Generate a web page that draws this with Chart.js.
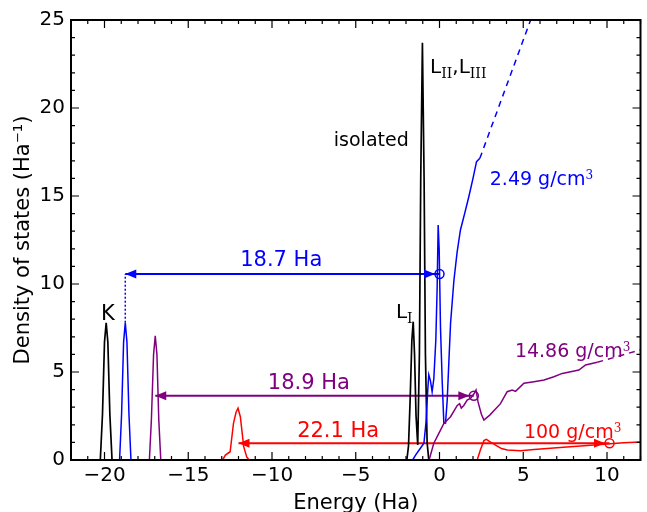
<!doctype html>
<html lang="en">
<head>
<meta charset="utf-8">
<title>Density of states</title>
<script src="https://cdn.jsdelivr.net/npm/chart.js"></script>
<style>
  html, body { margin: 0; padding: 0; background: #fff; }
  #dos { display: block; }
</style>
</head>
<body>
<canvas id="dos" width="647" height="512"></canvas>
<script>
// ------------- values -------------
const xTicks = [-20, -15, -10, -5, 0, 5, 10];
const yTicks = [0, 5, 10, 15, 20, 25];

// isolated atom (black)
const isoE = [-22, -20.25, -20.12, -20.0, -19.9, -19.8, -19.68, -19.55,
  -1.95, -1.85, -1.75, -1.65, -1.57, -1.49, -1.4, -1.3,
  -1.2, -1.12, -1.02, -0.92, -0.84, -0.74, -0.64, 12];
const isoD = [0, 0, 2.6, 6.7, 7.8, 6.7, 2.6, 0,
  0, 0.8, 3.5, 6.8, 7.86, 6.0, 2.5, 0.85,
  6.0, 16.0, 23.7, 16.0, 6.0, 1.0, 0, 0];

// 2.49 g/cm3 (blue)
const lowE = [-22, -19.1, -18.98, -18.86, -18.76, -18.66, -18.54, -18.42,
  -1.6, -1.43, -1.13, -0.93, -0.8, -0.7, -0.64, -0.54, -0.44, -0.34, -0.22, -0.14,
  -0.08, -0.02, 0.06, 0.16, 0.26, 0.36, 0.46, 0.56, 0.66, 0.86, 1.05, 1.25, 1.5,
  1.75, 2.0, 2.21, 2.41];
const lowD = [0, 0, 2.6, 6.7, 7.8, 6.7, 2.6, 0,
  0, 0.28, 0.68, 0.95, 2.2, 4.0, 4.85, 4.5, 3.88, 4.6, 6.8, 9.8,
  13.35, 12.0, 7.5, 4.5, 2.08, 2.1, 3.4, 5.6, 7.77, 10.2, 11.8, 13.07, 14.0,
  14.96, 16.0, 16.95, 17.14];
const lowTailE = [2.41, 5.44];
const lowTailD = [17.14, 25.0];

// 14.86 g/cm3 (purple)
const midE = [-22, -17.32, -17.2, -17.07, -16.97, -16.87, -16.76, -16.64,
  -0.62, -0.34, 0.06, 0.26, 0.66, 1.06, 1.2, 1.3, 1.45, 1.65, 1.85, 2.05, 2.18,
  2.3, 2.5, 2.65, 3.0, 3.3, 3.64, 4.04, 4.34, 4.54, 5.04, 5.64, 6.24, 6.83, 7.33,
  7.83, 8.32, 8.72, 9.42];
const midD = [0, 0, 2.3, 6.0, 7.05, 6.0, 2.3, 0,
  0, 0.95, 1.7, 2.08, 2.46, 3.1, 3.2, 2.95, 3.1, 3.4, 3.5, 3.75, 3.98,
  3.3, 2.6, 2.27, 2.55, 2.85, 3.2, 3.88, 3.98, 3.9, 4.36, 4.45, 4.55, 4.73, 4.92,
  5.02, 5.11, 5.4, 5.55];
const midTailE = [9.42, 12];
const midTailD = [5.55, 6.26];

// 100 g/cm3 (red)
const highE = [-22, -12.95, -12.78, -12.5, -12.3, -12.15, -12.03, -11.89, -11.69, -11.5, -11.35,
  2.25, 2.45, 2.65, 2.8, 3.0, 3.35, 3.7, 4.05, 4.84, 5.64, 6.43, 7.4, 8.42, 9.4,
  10.2, 11.0, 12];
const highD = [0, 0, 0.28, 0.47, 2.08, 2.7, 2.94, 2.46, 0.76, 0.15, 0,
  0, 0.6, 1.1, 1.17, 1.05, 0.85, 0.65, 0.57, 0.53, 0.6, 0.66, 0.72, 0.8, 0.87,
  0.93, 0.98, 1.02];

// gap arrows: K level -> edge
const gapFrom = [-18.76, -16.97, -12.0];
const gapTo = [0, 2.05, 10.15];
const gapLevel = [10.57, 3.65, 0.95];
const gapText = ['18.7 Ha', '18.9 Ha', '22.1 Ha'];
const kPeakBlue = 7.8;

const BLUE = '#0000ff', PURPLE = '#800080', RED = '#ff0000', BLACK = '#000000';
const gapColor = [BLUE, PURPLE, RED];

// text labels, anchored at the left end of the baseline (data units)
const notes = [
  {x: -6.31, y: 17.86, c: BLACK, parts: [['isolated', 19]]},
  {x: -20.21, y: 7.95, c: BLACK, parts: [['K', 21]]},
  {x: -2.6, y: 8.05, c: BLACK, parts: [['L', 20], ['I', 14, 'sub']]},
  {x: -0.56, y: 22.0, c: BLACK, parts: [['L', 20], ['II', 14, 'sub'], [',', 20], ['L', 20], ['III', 14, 'sub']]},
  {x: 3.0, y: 15.63, c: BLUE, parts: [['2.49 g/cm', 19], ['3', 12, 'sup']]},
  {x: 4.5, y: 5.87, c: PURPLE, parts: [['14.86 g/cm', 19], ['3', 12, 'sup']]},
  {x: 5.04, y: 1.23, c: RED, parts: [['100 g/cm', 19], ['3', 12, 'sup']]},
  {x: -11.9, y: 11.0, c: BLUE, parts: [[gapText[0], 21]]},
  {x: -10.25, y: 4.03, c: PURPLE, parts: [[gapText[1], 21]]},
  {x: -8.5, y: 1.32, c: RED, parts: [[gapText[2], 21]]}
];

const FONT = '"DejaVu Sans"';
Chart.defaults.font.family = 'DejaVu Sans';
Chart.defaults.color = '#000';

function curve(xs, ys, color, extra) {
  return Object.assign({
    data: xs.map((x, i) => ({x: x, y: ys[i]})),
    borderColor: color,
    backgroundColor: color,
    borderWidth: 1.5,
    showLine: true,
    pointRadius: 0,
    tension: 0
  }, extra || {});
}

const datasets = [
  curve(highE, highD, RED),
  curve(midE, midD, PURPLE),
  curve(midTailE, midTailD, PURPLE, {borderDash: [6, 5]}),
  curve(lowE, lowD, BLUE),
  curve(lowTailE, lowTailD, BLUE, {borderDash: [6, 5]}),
  curve([gapFrom[0], gapFrom[0]], [kPeakBlue, gapLevel[0]], BLUE, {borderDash: [2, 2]}),
  curve(isoE, isoD, BLACK, {borderWidth: 1.7})
];
gapFrom.forEach((g, i) => {
  datasets.push(curve([g, gapTo[i]], [gapLevel[i], gapLevel[i]], gapColor[i], {
    borderWidth: 2,
    arrow: true,
    pointRadius: [0, 4.5],
    pointBorderWidth: 1.5,
    pointBorderColor: gapColor[i],
    pointBackgroundColor: 'rgba(0,0,0,0)'
  }));
});

// arrow heads on the gap lines
const arrowHeads = {
  id: 'arrowHeads',
  afterDatasetsDraw(chart) {
    const ctx = chart.ctx;
    chart.data.datasets.forEach((ds, i) => {
      if (!ds.arrow) return;
      const pts = chart.getDatasetMeta(i).data;
      const a = pts[0], b = pts[pts.length - 1];
      ctx.save();
      ctx.fillStyle = ds.borderColor;
      ctx.beginPath();
      ctx.moveTo(a.x, a.y);
      ctx.lineTo(a.x + 11, a.y - 4.5);
      ctx.lineTo(a.x + 11, a.y + 4.5);
      ctx.closePath();
      const tip = b.x - 4.5;
      ctx.moveTo(tip, b.y);
      ctx.lineTo(tip - 11, b.y - 4.5);
      ctx.lineTo(tip - 11, b.y + 4.5);
      ctx.closePath();
      ctx.fill();
      ctx.restore();
    });
  }
};

// matplotlib style frame with inward ticks on all sides
const frame = {
  id: 'frame',
  afterDatasetsDraw(chart) {
    const {ctx, chartArea: a, scales: {x, y}} = chart;
    ctx.save();
    ctx.strokeStyle = '#000';
    ctx.lineWidth = 1.2;
    ctx.beginPath();
    for (let v = x.min; v <= x.max; v++) {
      const px = x.getPixelForValue(v);
      const len = v % 5 === 0 ? 8 : 4;
      ctx.moveTo(px, a.bottom); ctx.lineTo(px, a.bottom - len);
      ctx.moveTo(px, a.top); ctx.lineTo(px, a.top + len);
    }
    for (let v = y.min; v <= y.max; v++) {
      const py = y.getPixelForValue(v);
      const len = v % 5 === 0 ? 8 : 4;
      ctx.moveTo(a.left, py); ctx.lineTo(a.left + len, py);
      ctx.moveTo(a.right, py); ctx.lineTo(a.right - len, py);
    }
    ctx.stroke();
    ctx.lineWidth = 2;
    ctx.strokeRect(a.left, a.top, a.right - a.left, a.bottom - a.top);
    ctx.restore();
  }
};

const labels = {
  id: 'labels',
  afterDraw(chart) {
    const {ctx, scales: {x, y}} = chart;
    ctx.save();
    ctx.textBaseline = 'alphabetic';
    ctx.textAlign = 'left';
    notes.forEach(n => {
      let px = x.getPixelForValue(n.x);
      const py = y.getPixelForValue(n.y);
      ctx.fillStyle = n.c;
      n.parts.forEach(p => {
        const kind = p[2];
        ctx.font = p[1] + 'px ' + (kind ? '"DejaVu Serif"' : FONT);
        const dy = kind === 'sub' ? 5 : kind === 'sup' ? -6 : 0;
        ctx.fillText(p[0], px, py + dy);
        px += ctx.measureText(p[0]).width;
      });
    });
    ctx.restore();
  }
};

new Chart(document.getElementById('dos'), {
  type: 'scatter',
  data: {datasets: datasets},
  options: {
    responsive: false,
    animation: false,
    layout: {padding: {top: 20, right: 6.5, left: 0, bottom: 0}},
    plugins: {legend: {display: false}, tooltip: {enabled: false}},
    scales: {
      x: {
        type: 'linear', min: -22, max: 12,
        afterBuildTicks: s => { s.ticks = xTicks.map(v => ({value: v})); },
        afterFit: s => { s.height = 52; },
        grid: {display: false, drawTicks: false},
        border: {display: false},
        ticks: {
          font: {size: 20}, padding: 4, maxRotation: 0, autoSkip: false,
          callback: v => String(v).replace('-', '\u2212')
        },
        title: {display: true, text: 'Energy (Ha)', font: {size: 21, lineHeight: 1}, padding: {top: 0, bottom: -2.5}}
      },
      y: {
        type: 'linear', min: 0, max: 25,
        afterBuildTicks: s => { s.ticks = yTicks.map(v => ({value: v})); },
        afterFit: s => { s.width = 71; },
        grid: {display: false, drawTicks: false},
        border: {display: false},
        ticks: {font: {size: 20}, padding: 6},
        title: {display: true, text: 'Density of states (Ha\u207B\u00B9)', font: {size: 21, lineHeight: 1}, padding: {top: 13, bottom: 0}}
      }
    }
  },
  plugins: [arrowHeads, frame, labels]
});
</script>
</body>
</html>
